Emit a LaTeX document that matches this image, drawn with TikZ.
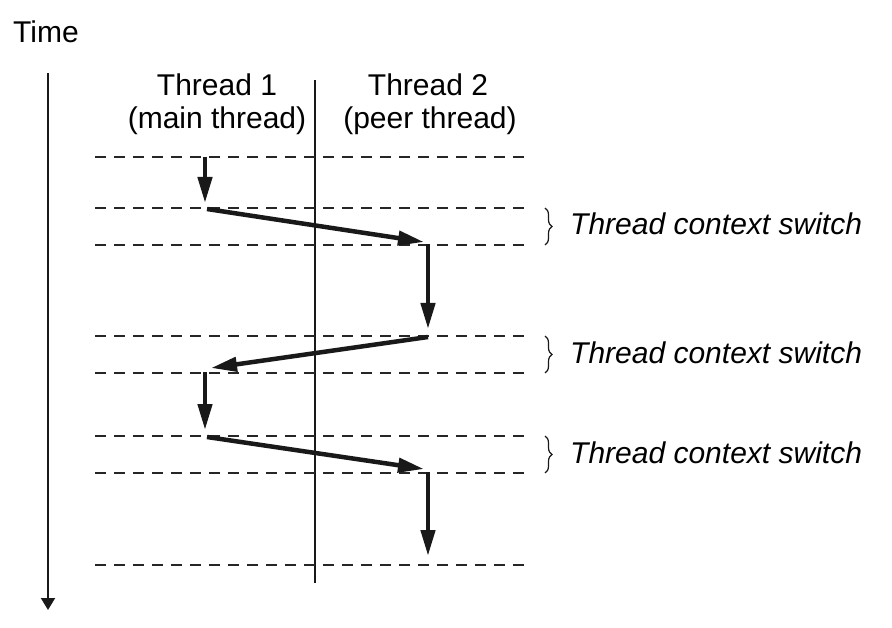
\documentclass[tikz,border=0pt]{standalone}
\usepackage{fontspec}
\setmainfont{Liberation Sans}
\usetikzlibrary{arrows.meta,decorations.pathreplacing}
\begin{document}
\begin{tikzpicture}[x=1pt,y=-1pt,
  lbl/.style={inner sep=0pt,font=\fontsize{30}{36}\selectfont},
  ilbl/.style={lbl,font=\fontsize{30}{36}\selectfont\itshape},
  guide/.style={line width=1.5pt,dash pattern=on 11pt off 8pt,draw=black!85},
  flow/.style={line width=4.5pt,draw=black!90,-{Triangle[length=26pt,width=14pt]}},
  axis/.style={line width=2pt,draw=black!90,-{Triangle[length=12pt,width=14pt]}},
  sep/.style={line width=1.5pt,draw=black!90},
  brc/.style={decorate,decoration={brace,amplitude=7pt},line width=1.2pt,draw=black!90}]
\useasboundingbox (0,0) rectangle (892,628);

% texts
\node[lbl,anchor=base west] (time) at (13,43) {Time};
\node[lbl,anchor=base] (t1a) at (217,96) {Thread 1};
\node[lbl,anchor=base] (t1b) at (217,129) {(main thread)};
\node[lbl,anchor=base] (t2a) at (428,96) {Thread 2};
\node[lbl,anchor=base] (t2b) at (430,129) {(peer thread)};

% time axis
\coordinate (ta) at (48,73);
\coordinate (tb) at (48,610);
\draw[axis] (ta) -- (tb);

% separator
\coordinate (sa) at (315,80);
\coordinate (sb) at (315,583);
\draw[sep] (sa) -- (sb);

% dashed guides
\foreach \n/\y in {g1/157,g2/208,g3/245,g4/336,g5/373,g6/436,g7/473,g8/565}{
  \coordinate (\n l) at (95,\y);
  \coordinate (\n r) at (530,\y);
  \draw[guide] (\n l) -- (\n r);
}

% flow points
\coordinate (p1) at (205,157);
\coordinate (p2) at (205,203);
\coordinate (p3) at (207,209);
\coordinate (p4) at (424,242);
\coordinate (p5) at (428,244);
\coordinate (p6) at (428,329);
\coordinate (p7) at (428,337);
\coordinate (p8) at (211,368);
\coordinate (p9) at (205,372);
\coordinate (p10) at (205,430);
\coordinate (p11) at (207,437);
\coordinate (p12) at (424,469);
\coordinate (p13) at (428,472);
\coordinate (p14) at (428,556);

\draw[flow] (p1) -- (p2);
\draw[flow] (p3) -- (p4);
\draw[flow] (p5) -- (p6);
\draw[flow] (p7) -- (p8);
\draw[flow] (p9) -- (p10);
\draw[flow] (p11) -- (p12);
\draw[flow] (p13) -- (p14);

% braces and labels
\coordinate (b1a) at (545,208); \coordinate (b1b) at (545,245);
\coordinate (b2a) at (545,336); \coordinate (b2b) at (545,373);
\coordinate (b3a) at (545,436); \coordinate (b3b) at (545,473);
\draw[brc] (b1a) -- (b1b);
\draw[brc] (b2a) -- (b2b);
\draw[brc] (b3a) -- (b3b);
\node[ilbl,anchor=base west] (c1) at (570,235) {Thread context switch};
\node[ilbl,anchor=base west] (c2) at (570,363) {Thread context switch};
\node[ilbl,anchor=base west] (c3) at (570,463) {Thread context switch};
\end{tikzpicture}
\end{document}
